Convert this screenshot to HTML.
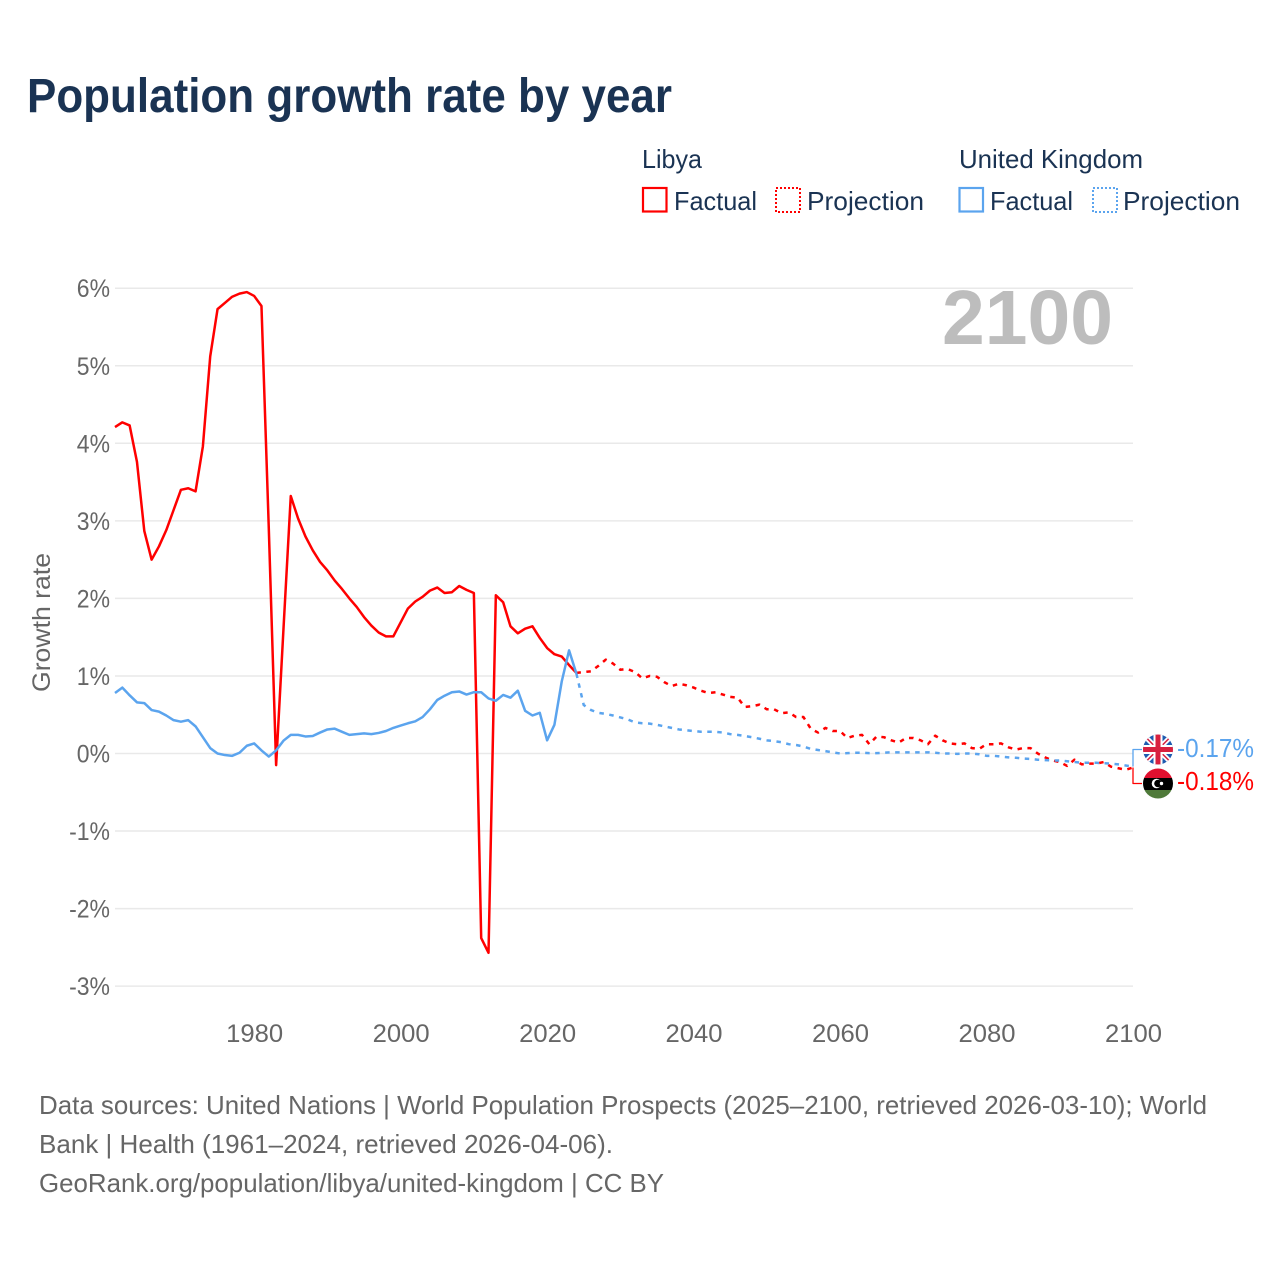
<!DOCTYPE html>
<html lang="en">
<head>
<meta charset="utf-8">
<title>Population growth rate by year</title>
<style>
html,body{margin:0;padding:0;background:#fff;}
svg{display:block;font-family:"Liberation Sans",sans-serif;}
</style>
</head>
<body>
<svg id="chart" xmlns="http://www.w3.org/2000/svg" width="1280" height="1280" viewBox="0 0 1280 1280">
  <rect width="1280" height="1280" fill="#fff"/>
  <text x="27" y="112" font-size="48" font-weight="700" fill="#1a3353" textLength="645" lengthAdjust="spacingAndGlyphs">Population growth rate by year</text>

  <g font-size="26" fill="#1a3353">
    <text x="642" y="168" textLength="60" lengthAdjust="spacingAndGlyphs">Libya</text>
    <rect x="643" y="188" width="23.500" height="23.500" fill="none" stroke="#ff0000" stroke-width="2.200"/>
    <text x="674" y="210" textLength="83" lengthAdjust="spacingAndGlyphs">Factual</text>
    <rect x="776" y="188" width="24" height="24" fill="none" stroke="#ff0000" stroke-width="2" stroke-dasharray="2,2"/>
    <text x="807" y="210" textLength="117" lengthAdjust="spacingAndGlyphs">Projection</text>
    <text x="959" y="168" textLength="184" lengthAdjust="spacingAndGlyphs">United Kingdom</text>
    <rect x="959.500" y="188" width="23.500" height="23.500" fill="none" stroke="#5ba4ee" stroke-width="2.200"/>
    <text x="990" y="210" textLength="83" lengthAdjust="spacingAndGlyphs">Factual</text>
    <rect x="1093" y="188" width="24" height="24" fill="none" stroke="#5ba4ee" stroke-width="2" stroke-dasharray="2,2"/>
    <text x="1123" y="210" textLength="117" lengthAdjust="spacingAndGlyphs">Projection</text>
  </g>

  <g id="grid"></g>
  <g id="yticks" font-size="25" fill="#666"></g>
  <g id="xticks" font-size="25" fill="#666"></g>

  <text transform="translate(50,622.500) rotate(-90)" text-anchor="middle" font-size="25" fill="#666" textLength="139" lengthAdjust="spacingAndGlyphs">Growth rate</text>

  <text x="942" y="344" font-size="77" font-weight="700" fill="#bdbdbd" textLength="171" lengthAdjust="spacingAndGlyphs">2100</text>

  <g id="series" fill="none" stroke-linejoin="round"></g>

  <defs>
    <clipPath id="clip-uk"><circle cx="1158" cy="749.500" r="15"/></clipPath>
    <clipPath id="clip-ly"><circle cx="1158" cy="783.500" r="15"/></clipPath>
  </defs>
  <g clip-path="url(#clip-uk)">
    <rect x="1143" y="734.500" width="30" height="30" fill="#1f5bb0"/>
    <path d="M1143 734.500 L1173 764.500 M1173 734.500 L1143 764.500" stroke="#fff" stroke-width="5"/>
    <path d="M1143 734.500 L1173 764.500 M1173 734.500 L1143 764.500" stroke="#d8203f" stroke-width="1.500"/>
    <path d="M1158 734.500 V764.500 M1143 749.500 H1173" stroke="#fff" stroke-width="9"/>
    <path d="M1158 734.500 V764.500 M1143 749.500 H1173" stroke="#d8203f" stroke-width="5"/>
  </g>
  <g clip-path="url(#clip-ly)">
    <rect x="1143" y="768.500" width="30" height="9.500" fill="#e0102f"/>
    <rect x="1143" y="778" width="30" height="12" fill="#000"/>
    <rect x="1143" y="790" width="30" height="9" fill="#4f7a3a"/>
    <circle cx="1156.500" cy="783.500" r="4.800" fill="#fff"/>
    <circle cx="1158" cy="783.500" r="3.800" fill="#000"/>
    <circle cx="1161.500" cy="783.500" r="1.700" fill="#fff"/>
  </g>
  <text x="1177" y="757" font-size="26" fill="#5ba4ee" textLength="77" lengthAdjust="spacingAndGlyphs">-0.17%</text>
  <text x="1177" y="790" font-size="26" fill="#ff0000" textLength="77" lengthAdjust="spacingAndGlyphs">-0.18%</text>

  <g font-size="26" fill="#666">
    <text x="39" y="1114" textLength="1168" lengthAdjust="spacingAndGlyphs">Data sources: United Nations | World Population Prospects (2025–2100, retrieved 2026-03-10); World</text>
    <text x="39" y="1153" textLength="574" lengthAdjust="spacingAndGlyphs">Bank | Health (1961–2024, retrieved 2026-04-06).</text>
    <text x="39" y="1192" textLength="625" lengthAdjust="spacingAndGlyphs">GeoRank.org/population/libya/united-kingdom | CC BY</text>
  </g>
</svg>
<script>
var yTickValues = [6, 5, 4, 3, 2, 1, 0, -1, -2, -3];
var yTickLabels = ["6%", "5%", "4%", "3%", "2%", "1%", "0%", "-1%", "-2%", "-3%"];
var xTickYears = [1980, 2000, 2020, 2040, 2060, 2080, 2100];
var xTickLabels = ["1980", "2000", "2020", "2040", "2060", "2080", "2100"];
var factualStartYear = 1961;
var projectionStartYear = 2024;
var libyaFactual = [4.21,4.27,4.23,3.76,2.87,2.50,2.67,2.88,3.14,3.40,3.42,3.38,3.96,5.12,5.73,5.81,5.89,5.93,5.95,5.90,5.77,2.90,-0.15,1.60,3.32,3.03,2.80,2.62,2.47,2.36,2.23,2.12,2.00,1.89,1.76,1.65,1.56,1.51,1.51,1.69,1.87,1.96,2.02,2.10,2.14,2.07,2.08,2.16,2.11,2.07,-2.38,-2.57,2.04,1.95,1.64,1.55,1.61,1.64,1.49,1.36,1.28,1.25,1.14,1.04];
var libyaProjection = [1.04,1.05,1.06,1.13,1.21,1.16,1.08,1.09,1.05,0.97,1.00,0.99,0.92,0.87,0.90,0.88,0.85,0.81,0.78,0.79,0.76,0.73,0.72,0.60,0.61,0.63,0.57,0.57,0.52,0.53,0.47,0.47,0.32,0.27,0.33,0.29,0.29,0.20,0.23,0.24,0.12,0.22,0.21,0.17,0.14,0.20,0.20,0.17,0.12,0.23,0.17,0.13,0.12,0.13,0.07,0.06,0.12,0.12,0.13,0.08,0.05,0.07,0.07,0.00,-0.05,-0.09,-0.11,-0.16,-0.08,-0.14,-0.13,-0.13,-0.11,-0.17,-0.19,-0.21,-0.18];
var ukFactual = [0.78,0.85,0.75,0.66,0.65,0.56,0.54,0.49,0.43,0.41,0.43,0.35,0.21,0.07,0.00,-0.02,-0.03,0.01,0.10,0.13,0.04,-0.04,0.04,0.165,0.24,0.24,0.22,0.225,0.27,0.31,0.32,0.28,0.24,0.25,0.26,0.25,0.265,0.29,0.33,0.36,0.39,0.415,0.47,0.57,0.69,0.745,0.79,0.80,0.76,0.79,0.79,0.71,0.68,0.755,0.72,0.81,0.55,0.49,0.525,0.17,0.37,0.93,1.33,1.03];
var ukProjection = [1.03,0.625,0.56,0.525,0.51,0.49,0.465,0.44,0.40,0.39,0.385,0.37,0.35,0.33,0.31,0.30,0.29,0.28,0.28,0.28,0.27,0.25,0.24,0.225,0.21,0.19,0.17,0.16,0.145,0.12,0.11,0.09,0.06,0.045,0.03,0.015,0.00,0.005,0.01,0.01,0.005,0.005,0.01,0.015,0.015,0.015,0.015,0.015,0.015,0.01,0.00,0.00,-0.005,0.00,0.00,-0.01,-0.03,-0.03,-0.04,-0.05,-0.055,-0.065,-0.07,-0.08,-0.085,-0.09,-0.09,-0.10,-0.11,-0.12,-0.12,-0.12,-0.125,-0.13,-0.14,-0.155,-0.17];

var NS = "http://www.w3.org/2000/svg";
var RED = "#ff0000";
var BLUE = "#5ba4ee";
var PLOT_LEFT = 115;
var PLOT_RIGHT = 1133;
var LINE_WIDTH = "2.5";
var DASH = "4.5,5.5";

function xScale(year) {
  return PLOT_LEFT + (year - 1961) * (PLOT_RIGHT - PLOT_LEFT) / (2100 - 1961);
}
function yScale(value) {
  return 753.5 - value * 77.55;
}
function linePath(values, startYear) {
  var d = "";
  for (var i = 0; i < values.length; i++) {
    d += (i ? "L" : "M") + xScale(startYear + i).toFixed(2) + " " + yScale(values[i]).toFixed(2);
  }
  return d;
}

var gridGroup = document.getElementById("grid");
var yTickGroup = document.getElementById("yticks");
var xTickGroup = document.getElementById("xticks");
var seriesGroup = document.getElementById("series");

yTickValues.forEach(function (v, i) {
  var line = document.createElementNS(NS, "line");
  
  
  line.setAttribute("x1", PLOT_LEFT);
  line.setAttribute("x2", PLOT_RIGHT);
  line.setAttribute("y1", yScale(v));
  line.setAttribute("y2", yScale(v));
  line.setAttribute("stroke", "#e9e9e9");
  line.setAttribute("stroke-width", "1.5");
  gridGroup.appendChild(line);

  var label = document.createElementNS(NS, "text");
  
  
  label.setAttribute("x", 110);
  label.setAttribute("y", yScale(v) + 9);
  label.setAttribute("text-anchor", "end");
  label.textContent = yTickLabels[i];
  yTickGroup.appendChild(label);
  label.setAttribute("textLength", (label.getComputedTextLength() * 0.92).toFixed(1));
  label.setAttribute("lengthAdjust", "spacingAndGlyphs");
});

xTickYears.forEach(function (year, i) {
  var label = document.createElementNS(NS, "text");
  
  
  label.setAttribute("x", xScale(year) + 0.5);
  label.setAttribute("y", 1042);
  label.setAttribute("text-anchor", "middle");
  label.textContent = xTickLabels[i];
  xTickGroup.appendChild(label);
  label.setAttribute("textLength", "57");
  label.setAttribute("lengthAdjust", "spacingAndGlyphs");
});

var libyaEnd = libyaProjection[libyaProjection.length - 1];
var ukEnd = ukProjection[ukProjection.length - 1];

var libyaConnector = document.createElementNS(NS, "path");


libyaConnector.setAttribute("d", "M" + PLOT_RIGHT + " " + yScale(libyaEnd) + "V783.5H1142");
libyaConnector.setAttribute("stroke", RED);
libyaConnector.setAttribute("stroke-width", "1.3");
seriesGroup.appendChild(libyaConnector);

var ukConnector = document.createElementNS(NS, "path");


ukConnector.setAttribute("d", "M" + PLOT_RIGHT + " " + yScale(ukEnd) + "V749.5H1142");
ukConnector.setAttribute("stroke", BLUE);
ukConnector.setAttribute("stroke-width", "1.3");
seriesGroup.appendChild(ukConnector);

var libyaFactualLine = document.createElementNS(NS, "path");


libyaFactualLine.setAttribute("d", linePath(libyaFactual, factualStartYear));
libyaFactualLine.setAttribute("stroke", RED);
libyaFactualLine.setAttribute("stroke-width", LINE_WIDTH);
seriesGroup.appendChild(libyaFactualLine);

var libyaProjectionLine = document.createElementNS(NS, "path");


libyaProjectionLine.setAttribute("d", linePath(libyaProjection, projectionStartYear));
libyaProjectionLine.setAttribute("stroke", RED);
libyaProjectionLine.setAttribute("stroke-width", LINE_WIDTH);
libyaProjectionLine.setAttribute("stroke-dasharray", DASH);
seriesGroup.appendChild(libyaProjectionLine);

var ukFactualLine = document.createElementNS(NS, "path");


ukFactualLine.setAttribute("d", linePath(ukFactual, factualStartYear));
ukFactualLine.setAttribute("stroke", BLUE);
ukFactualLine.setAttribute("stroke-width", LINE_WIDTH);
seriesGroup.appendChild(ukFactualLine);

var ukProjectionLine = document.createElementNS(NS, "path");


ukProjectionLine.setAttribute("d", linePath(ukProjection, projectionStartYear));
ukProjectionLine.setAttribute("stroke", BLUE);
ukProjectionLine.setAttribute("stroke-width", LINE_WIDTH);
ukProjectionLine.setAttribute("stroke-dasharray", DASH);
seriesGroup.appendChild(ukProjectionLine);
</script>
</body>
</html>
